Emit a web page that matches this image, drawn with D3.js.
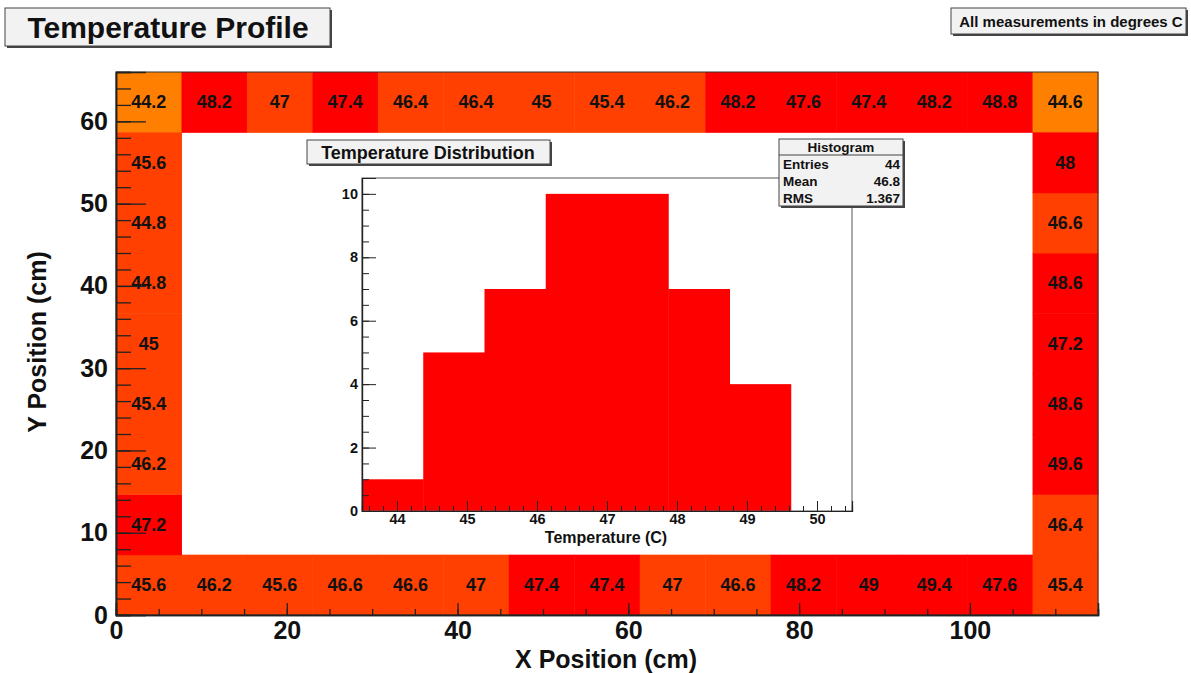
<!DOCTYPE html>
<html><head><meta charset="utf-8">
<script src="https://cdn.jsdelivr.net/npm/d3@7"></script>
<style>
html,body{margin:0;padding:0;background:#fff;}
svg{display:block;font-family:"Liberation Sans",Arial,Helvetica,sans-serif;font-weight:bold;}
</style></head><body>
<svg id="c" width="1191" height="673"></svg>
<script>
// ---- data ----
const xBinCount = 15, yBinCount = 9;
const xRange = [0, 115], yRange = [0, 66];
const topRow    = [44.2, 48.2, 47, 47.4, 46.4, 46.4, 45, 45.4, 46.2, 48.2, 47.6, 47.4, 48.2, 48.8, 44.6];
const bottomRow = [45.6, 46.2, 45.6, 46.6, 46.6, 47, 47.4, 47.4, 47, 46.6, 48.2, 49, 49.4, 47.6, 45.4];
const leftCol   = [47.2, 46.2, 45.4, 45, 44.8, 44.8, 45.6];   // rows 1..7 bottom->top
const rightCol  = [46.4, 49.6, 48.6, 47.2, 48.6, 46.6, 48];   // rows 1..7 bottom->top
const xTicks = [0, 20, 40, 60, 80, 100];
const yTicks = [0, 10, 20, 30, 40, 50, 60];

const histEdges  = [43.5, 44.375, 45.25, 46.125, 47, 47.875, 48.75, 49.625, 50.5];
const histCounts = [1, 5, 7, 10, 10, 7, 4, 0];
const histXTicks = [44, 45, 46, 47, 48, 49, 50];
const histYTicks = [0, 2, 4, 6, 8, 10];
const stats = [["Entries", "44"], ["Mean", "46.8"], ["RMS", "1.367"]];

const colorLevels = [44.7, 47.1];
const colorRange  = ["#ff8000", "#ff4000", "#ff0000"];

// ---- build cells ----
const cells = [];
topRow.forEach((v, i) => cells.push({ix: i, iy: yBinCount - 1, v}));
bottomRow.forEach((v, i) => cells.push({ix: i, iy: 0, v}));
leftCol.forEach((v, i) => cells.push({ix: 0, iy: i + 1, v}));
rightCol.forEach((v, i) => cells.push({ix: xBinCount - 1, iy: i + 1, v}));

const svg = d3.select("#c");
const x = d3.scaleLinear().domain(xRange).range([116, 1098]);
const y = d3.scaleLinear().domain(yRange).range([615, 72]);
const color = d3.scaleThreshold().domain(colorLevels).range(colorRange);
const bw = (xRange[1] - xRange[0]) / xBinCount, bh = (yRange[1] - yRange[0]) / yBinCount;

function pave(g, x0, y0, w, h) {
  g.append("rect").attr("x", x0 + 2).attr("y", y0 + 2).attr("width", w).attr("height", h).attr("fill", "#444");
  g.append("rect").attr("x", x0).attr("y", y0).attr("width", w).attr("height", h)
    .attr("fill", "#f2f2f2").attr("stroke", "#444").attr("stroke-width", 1);
}

// cells
svg.append("g").selectAll("rect").data(cells).join("rect")
  .attr("x", d => x(d.ix * bw)).attr("y", d => y((d.iy + 1) * bh))
  .attr("width", d => x((d.ix + 1) * bw) - x(d.ix * bw) + 0.5)
  .attr("height", d => y(d.iy * bh) - y((d.iy + 1) * bh) + 0.5)
  .attr("fill", d => color(d.v));
svg.append("g").selectAll("text").data(cells).join("text")
  .attr("x", d => x((d.ix + 0.5) * bw)).attr("y", d => y((d.iy + 0.5) * bh))
  .attr("text-anchor", "middle").attr("dominant-baseline", "central")
  .attr("font-size", 18).attr("fill", "#111")
  .text(d => d.v);

// frame
svg.append("rect").attr("x", x(xRange[0])).attr("y", y(yRange[1]))
  .attr("width", x(xRange[1]) - x(xRange[0])).attr("height", y(yRange[0]) - y(yRange[1]))
  .attr("fill", "none").attr("stroke", "#333").attr("stroke-width", 1);

// main axes
const yMinor = d3.range(0, 66.01, 2);
const xMinor = d3.range(0, 115.01, 5);
const gy = svg.append("g").attr("transform", `translate(${x(0)},0)`);
gy.call(d3.axisLeft(y).tickValues(yMinor).tickSize(-15).tickFormat(""));
gy.append("g").call(d3.axisLeft(y).tickValues(yTicks).tickSize(-30).tickPadding(8).tickFormat(d3.format("d")));
const gx = svg.append("g").attr("transform", `translate(0,${y(0)})`);
gx.call(d3.axisBottom(x).tickValues(xMinor).tickSize(-6).tickFormat(""));
gx.append("g").call(d3.axisBottom(x).tickValues(xTicks).tickSize(-12).tickPadding(6).tickFormat(d3.format("d")));
[gx, gy].forEach(g => {
  g.selectAll("path.domain").attr("stroke", "#222").attr("stroke-width", 1.5);
  g.selectAll(".tick line").attr("stroke", "#222").attr("stroke-width", 1.3);
  g.selectAll(".tick text").attr("font-size", 25).attr("fill", "#111");
});
svg.selectAll("g").attr("font-family", null);

svg.append("text").attr("x", 606).attr("y", 668).attr("text-anchor", "middle")
  .attr("font-size", 25).attr("fill", "#111").text("X Position (cm)");
svg.append("text").attr("transform", "translate(46,342) rotate(-90)").attr("text-anchor", "middle")
  .attr("font-size", 25).attr("fill", "#111").text("Y Position (cm)");

// title boxes
const tg = svg.append("g");
pave(tg, 5, 8, 325, 38);
tg.append("text").attr("x", 168).attr("y", 38).attr("text-anchor", "middle").attr("font-size", 30).attr("fill", "#111").text("Temperature Profile");
const ng = svg.append("g");
pave(ng, 951, 8, 235, 26);
ng.append("text").attr("x", 1071).attr("y", 26.5).attr("text-anchor", "middle").attr("font-size", 15).attr("fill", "#111").text("All measurements in degrees C");

// ---- inset histogram ----
const hx = d3.scaleLinear().domain([43.5, 50.5]).range([362, 852]);
const hy = d3.scaleLinear().domain([0, 10.5]).range([511, 178]);
const bins = histCounts.map((c, i) => ({x0: histEdges[i], x1: histEdges[i + 1], c}));
const hg = svg.append("g");
hg.selectAll("rect").data(bins.filter(b => b.c > 0)).join("rect")
  .attr("x", d => hx(d.x0)).attr("y", d => hy(d.c))
  .attr("width", d => hx(d.x1) - hx(d.x0) + 0.5).attr("height", d => hy(0) - hy(d.c))
  .attr("fill", "#ff0000");
hg.append("rect").attr("x", 362).attr("y", 178).attr("width", 490).attr("height", 333)
  .attr("fill", "none").attr("stroke", "#555").attr("stroke-width", 1);
const hyAx = hg.append("g").attr("transform", `translate(${hx(43.5)},0)`);
hyAx.call(d3.axisLeft(hy).tickValues(d3.range(0, 10.5, 0.5)).tickSize(-7).tickFormat(""));
hyAx.append("g").call(d3.axisLeft(hy).tickValues(histYTicks).tickSize(-14).tickPadding(4).tickFormat(d3.format("d")));
const hxAx = hg.append("g").attr("transform", `translate(0,${hy(0)})`);
hxAx.call(d3.axisBottom(hx).tickValues(d3.range(43.6, 50.5, 0.2)).tickSize(-5).tickFormat(""));
hxAx.append("g").call(d3.axisBottom(hx).tickValues(histXTicks).tickSize(-10).tickPadding(3).tickFormat(d3.format("d")));
[hxAx, hyAx].forEach(g => {
  g.selectAll("path.domain").attr("stroke", "#222").attr("stroke-width", 1.2);
  g.selectAll(".tick line").attr("stroke", "#222").attr("stroke-width", 1);
  g.selectAll(".tick text").attr("font-size", 14.5).attr("fill", "#111");
});
hg.selectAll("g").attr("font-family", null);
hg.append("text").attr("x", 606).attr("y", 543).attr("text-anchor", "middle")
  .attr("font-size", 16).attr("fill", "#111").text("Temperature (C)");

// inset title
const itg = svg.append("g");
pave(itg, 307, 140, 243, 24);
itg.append("text").attr("x", 428).attr("y", 158.5).attr("text-anchor", "middle").attr("font-size", 18).attr("fill", "#111").text("Temperature Distribution");

// stats box
const sg = svg.append("g");
pave(sg, 779, 139, 124, 67);
sg.append("line").attr("x1", 779).attr("x2", 903).attr("y1", 155).attr("y2", 155).attr("stroke", "#444");
sg.append("text").attr("x", 841).attr("y", 152).attr("text-anchor", "middle").attr("font-size", 13.5).attr("fill", "#111").text("Histogram");
sg.selectAll("text.lab").data(stats).join("text").attr("class", "lab")
  .attr("x", 783).attr("y", (d, i) => 169 + i * 17).attr("font-size", 13.5).attr("fill", "#111").text(d => d[0]);
sg.selectAll("text.val").data(stats).join("text").attr("class", "val")
  .attr("x", 900).attr("y", (d, i) => 169 + i * 17).attr("text-anchor", "end").attr("font-size", 13.5).attr("fill", "#111").text(d => d[1]);
</script></body></html>
